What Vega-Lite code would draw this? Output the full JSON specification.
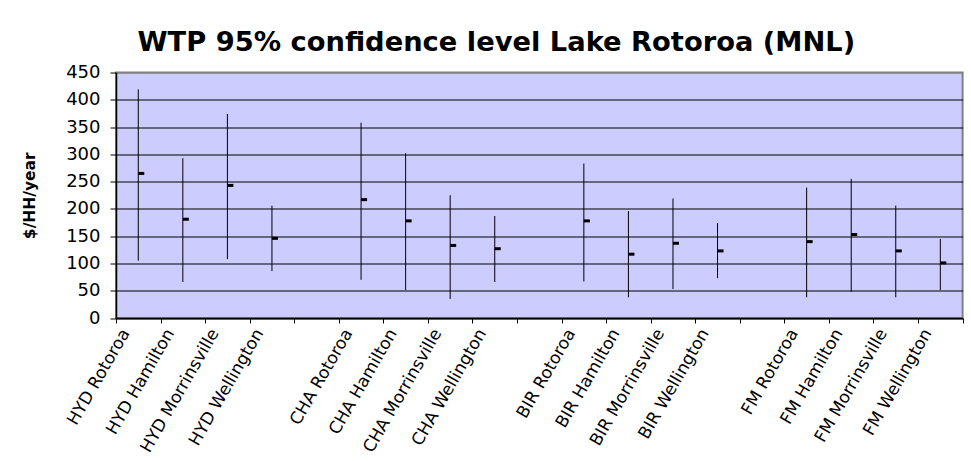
{
  "$schema": "https://vega.github.io/schema/vega-lite/v6.json",
  "autosize": {"type": "none"},
  "width": 846.6,
  "height": 245.5,
  "padding": {"left": 116, "top": 72.5, "right": 8.4, "bottom": 143},
  "background": "white",
  "title": {
    "text": "WTP 95% confidence level Lake Rotoroa (MNL)",
    "font": "DejaVu Sans",
    "fontSize": 27.3,
    "fontWeight": "bold",
    "color": "black",
    "anchor": "middle",
    "frame": "group",
    "baseline": "alphabetic",
    "dx": -43,
    "dy": 27,
    "offset": 12
  },
  "config": {
    "view": {"fill": "#CCCCFF", "stroke": "#808080", "strokeWidth": 2},
    "axisY": {
      "labelFont": "DejaVu Sans",
      "labelFontSize": 18,
      "labelColor": "black",
      "labelPadding": 10,
      "tickSize": 6,
      "tickColor": "black",
      "domainColor": "black",
      "domainWidth": 1.5,
      "gridColor": "black",
      "gridWidth": 1,
      "gridOpacity": 1
    }
  },
  "data": {
    "values": [
      {"cat": "HYD Rotoroa", "low": 105, "high": 419, "close": 265},
      {"cat": "HYD Hamilton", "low": 66, "high": 293, "close": 181},
      {"cat": "HYD Morrinsville", "low": 108, "high": 374, "close": 243},
      {"cat": "HYD Wellington", "low": 86, "high": 206, "close": 146},
      {"cat": "CHA Rotoroa", "low": 70, "high": 358, "close": 217},
      {"cat": "CHA Hamilton", "low": 51, "high": 302, "close": 178},
      {"cat": "CHA Morrinsville", "low": 35, "high": 225, "close": 133},
      {"cat": "CHA Wellington", "low": 66, "high": 187, "close": 127},
      {"cat": "BIR Rotoroa", "low": 67, "high": 283, "close": 178},
      {"cat": "BIR Hamilton", "low": 38, "high": 196, "close": 117},
      {"cat": "BIR Morrinsville", "low": 53, "high": 219, "close": 137},
      {"cat": "BIR Wellington", "low": 73, "high": 174, "close": 123},
      {"cat": "FM Rotoroa", "low": 38, "high": 239, "close": 140},
      {"cat": "FM Hamilton", "low": 48, "high": 255, "close": 153},
      {"cat": "FM Morrinsville", "low": 38, "high": 206, "close": 123},
      {"cat": "FM Wellington", "low": 51, "high": 145, "close": 101}
    ]
  },
  "layer": [
    {
      "mark": {"type": "rule", "color": "black", "strokeWidth": 1},
      "encoding": {
        "x": {
          "field": "cat",
          "type": "nominal",
          "sort": null,
          "scale": {
            "domain": ["HYD Rotoroa", "HYD Hamilton", "HYD Morrinsville", "HYD Wellington", " ",
                       "CHA Rotoroa", "CHA Hamilton", "CHA Morrinsville", "CHA Wellington", "  ",
                       "BIR Rotoroa", "BIR Hamilton", "BIR Morrinsville", "BIR Wellington", "   ",
                       "FM Rotoroa", "FM Hamilton", "FM Morrinsville", "FM Wellington"],
            "paddingInner": 0,
            "paddingOuter": 0
          },
          "axis": {
            "title": null,
            "labelAngle": -60,
            "labelAlign": "right",
            "labelBaseline": "middle",
            "labelFont": "DejaVu Sans",
            "labelFontSize": 17,
            "labelColor": "black",
            "labelOffset": -13,
            "labelPadding": 7,
            "tickBand": "extent",
            "tickSize": 5,
            "tickColor": "black",
            "domainColor": "black",
            "domainWidth": 1.5,
            "grid": false
          }
        },
        "y": {
          "field": "low",
          "type": "quantitative",
          "scale": {"domain": [0, 450], "nice": false},
          "axis": {
            "title": "$/HH/year",
            "titleFont": "DejaVu Sans",
            "titleFontSize": 15.5,
            "titleFontWeight": "bold",
            "titleColor": "black",
            "titleX": -79,
            "titleY": 122.75,
            "titleBaseline": "bottom",
            "values": [0, 50, 100, 150, 200, 250, 300, 350, 400, 450],
            "tickCount": 10,
            "grid": true,
            "gridColor": {"condition": {"test": "datum.value === 450", "value": "#808080"}, "value": "black"}
          }
        },
        "y2": {"field": "high"}
      }
    },
    {
      "mark": {"type": "tick", "color": "black", "size": 6, "thickness": 3, "xOffset": 3, "opacity": 1},
      "encoding": {
        "x": {"field": "cat", "type": "nominal", "sort": null},
        "y": {
          "field": "close",
          "type": "quantitative",
          "axis": {
            "title": "$/HH/year",
            "titleFont": "DejaVu Sans",
            "titleFontSize": 15.5,
            "titleFontWeight": "bold",
            "titleColor": "black",
            "titleX": -79,
            "titleY": 122.75,
            "titleBaseline": "bottom",
            "values": [0, 50, 100, 150, 200, 250, 300, 350, 400, 450],
            "tickCount": 10,
            "grid": true,
            "gridColor": {"condition": {"test": "datum.value === 450", "value": "#808080"}, "value": "black"}
          }
        }
      }
    }
  ]
}
